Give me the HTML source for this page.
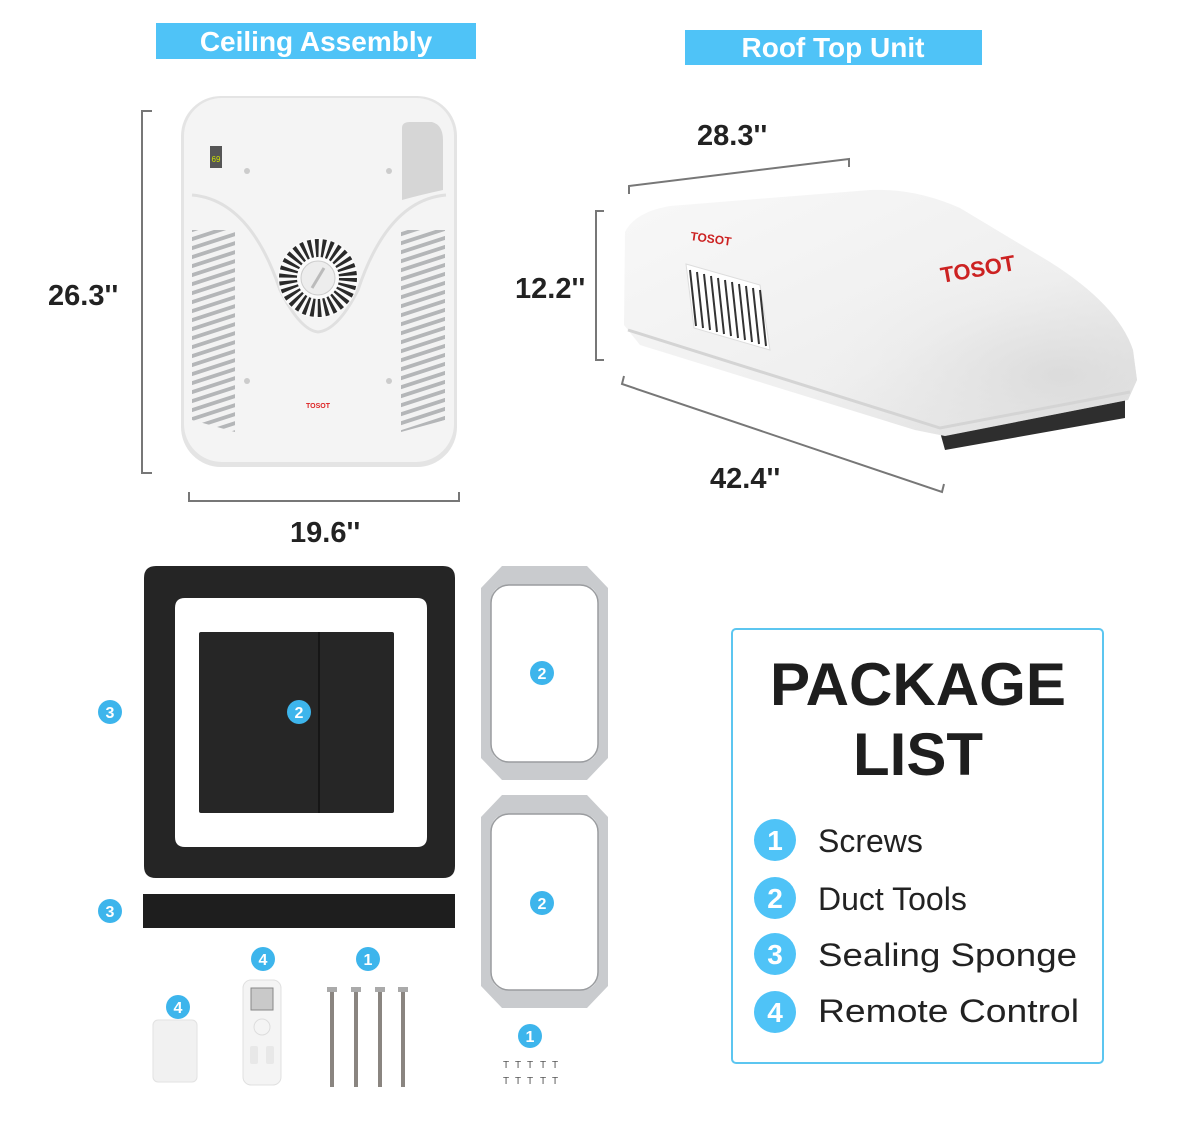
<!DOCTYPE html>
<html><head><meta charset="utf-8"><style>
html,body{margin:0;padding:0;background:#fff}
svg{display:block}
text{font-family:"Liberation Sans",sans-serif}
</style></head><body>
<svg width="1200" height="1124" viewBox="0 0 1200 1124" xmlns="http://www.w3.org/2000/svg">
<defs>
<pattern id="vent" width="12" height="9" patternUnits="userSpaceOnUse" patternTransform="skewY(-18)">
<rect width="12" height="9" fill="#f3f3f3"/><rect y="2.5" width="12" height="4" fill="#b4b6b8"/>
</pattern>
<linearGradient id="roofg" x1="0" y1="0" x2="1" y2="1">
<stop offset="0" stop-color="#f8f8f8"/><stop offset="0.6" stop-color="#efefef"/><stop offset="1" stop-color="#dadada"/>
</linearGradient>
<radialGradient id="shade" cx="0.85" cy="0.75" r="0.5">
<stop offset="0" stop-color="#d9d9d9" stop-opacity="0.8"/><stop offset="1" stop-color="#eee" stop-opacity="0"/>
</radialGradient>
</defs>

<rect x="156" y="23" width="320" height="36" fill="#4fc3f7"/>
<text x="316" y="51" font-size="28" font-weight="bold" fill="#fff" text-anchor="middle">Ceiling Assembly</text>
<rect x="685" y="30" width="297" height="35" fill="#4fc3f7"/>
<text x="833" y="57" font-size="28" font-weight="bold" fill="#fff" text-anchor="middle">Roof Top Unit</text>

<path d="M152,111 H142 V473 H152" fill="none" stroke="#777" stroke-width="2"/>
<text x="48" y="305" font-size="29" font-weight="bold" fill="#222">26.3''</text>
<path d="M189,492 V501 H459 V492" fill="none" stroke="#777" stroke-width="2"/>
<text x="290" y="542" font-size="29" font-weight="bold" fill="#222">19.6''</text>

<rect x="181" y="96" width="276" height="371" rx="40" fill="#e4e4e4"/>
<rect x="184" y="98" width="270" height="364" rx="38" fill="#f4f4f4"/>
<path d="M192,195 Q250,200 280,290 Q300,330 318,332 Q338,330 358,290 Q388,200 446,195" fill="none" stroke="#e0e0e0" stroke-width="3"/>
<path d="M192,230 L235,230 L235,432 L192,420 Z" fill="url(#vent)"/>
<path d="M401,230 L445,230 L445,420 L401,432 Z" fill="url(#vent)"/>
<path d="M402,128 Q402,122 410,122 L432,122 Q443,125 443,140 L443,190 Q420,195 402,200 Z" fill="#d6d6d6"/>
<circle cx="318" cy="278" r="40" fill="#fafafa"/>
<circle cx="318" cy="278" r="30" fill="none" stroke="#2a2a2a" stroke-width="18" stroke-dasharray="3.2 3.1"/>
<circle cx="318" cy="278" r="17" fill="#ededed" stroke="#ccc"/>
<line x1="312" y1="288" x2="324" y2="268" stroke="#bbb" stroke-width="3"/>
<rect x="210" y="146" width="12" height="22" fill="#555"/>
<text x="216" y="162" font-size="8" fill="#cde000" text-anchor="middle">69</text>
<circle cx="247" cy="171" r="3" fill="#ccc"/><circle cx="389" cy="171" r="3" fill="#ccc"/>
<circle cx="247" cy="381" r="3" fill="#ccc"/><circle cx="389" cy="381" r="3" fill="#ccc"/>
<text x="318" y="408" font-size="7" font-weight="bold" fill="#d22" text-anchor="middle">TOSOT</text>

<path d="M629,194 L629,186 L849,159 L849,167" fill="none" stroke="#777" stroke-width="2"/>
<text x="697" y="145" font-size="29" font-weight="bold" fill="#222">28.3''</text>
<path d="M604,211 H596 V360 H604" fill="none" stroke="#777" stroke-width="2"/>
<text x="515" y="298" font-size="29" font-weight="bold" fill="#222">12.2''</text>
<path d="M624,376 L622,384 L942,492 L944,484" fill="none" stroke="#777" stroke-width="2"/>
<text x="710" y="488" font-size="29" font-weight="bold" fill="#222">42.4''</text>

<path d="M940,432 L1125,400 L1125,418 L945,450 Z" fill="#2e2e2e"/>
<path d="M625,232 Q635,212 670,206 L870,190 Q915,188 960,208 L1050,262 Q1118,305 1133,350 L1137,380 L1128,400 L945,436 L915,430 L640,345 L624,325 Z" fill="url(#roofg)"/>
<path d="M625,232 Q635,212 670,206 L870,190 Q915,188 960,208 L1050,262 Q1118,305 1133,350 L1137,380 L1128,400 L945,436 L915,430 L640,345 L624,325 Z" fill="url(#shade)"/>
<path d="M628,330 L940,428 L1130,392" fill="none" stroke="#d4d4d4" stroke-width="3"/>
<path d="M686,264 L760,285 L770,350 L694,328 Z" fill="#fff" stroke="#ddd"/>
<g stroke="#333" stroke-width="2">
<line x1="690" y1="270" x2="696" y2="326"/><line x1="697" y1="272" x2="703" y2="328"/><line x1="704" y1="274" x2="710" y2="330"/><line x1="711" y1="276" x2="717" y2="332"/><line x1="718" y1="278" x2="724" y2="334"/><line x1="725" y1="280" x2="731" y2="336"/><line x1="732" y1="282" x2="738" y2="338"/><line x1="739" y1="284" x2="745" y2="340"/><line x1="746" y1="286" x2="752" y2="342"/><line x1="753" y1="288" x2="759" y2="344"/><line x1="760" y1="290" x2="766" y2="346"/>
</g>
<text x="690" y="240" font-size="12" font-weight="bold" fill="#c22" transform="rotate(8 690 240)">TOSOT</text>
<text x="942" y="283" font-size="22" font-weight="bold" fill="#c22" transform="rotate(-10 942 283)">TOSOT</text>

<path fill-rule="evenodd" fill="#252525" d="M144,578 Q144,566 156,566 L443,566 Q455,566 455,578 L455,866 Q455,878 443,878 L156,878 Q144,878 144,866 Z M185,598 Q175,598 175,608 L175,837 Q175,847 185,847 L417,847 Q427,847 427,837 L427,608 Q427,598 417,598 Z"/>
<rect x="199" y="632" width="195" height="181" rx="2" fill="#262626"/>
<line x1="319" y1="632" x2="319" y2="813" stroke="#111" stroke-width="1.5"/>
<rect x="143" y="894" width="312" height="34" fill="#1e1e1e"/>

<g fill="#c9cbce" fill-rule="evenodd">
<path d="M502,566 L587,566 L608,588 L608,758 L587,780 L502,780 L481,758 L481,588 Z M509,585 Q491,585 491,603 L491,744 Q491,762 509,762 L580,762 Q598,762 598,744 L598,603 Q598,585 580,585 Z"/>
<path d="M502,795 L587,795 L608,817 L608,986 L587,1008 L502,1008 L481,986 L481,817 Z M509,814 Q491,814 491,832 L491,972 Q491,990 509,990 L580,990 Q598,990 598,972 L598,832 Q598,814 580,814 Z"/>
</g>
<g fill="none" stroke="#9a9c9f" stroke-width="1.5">
<rect x="491" y="585" width="107" height="177" rx="18"/><rect x="491" y="814" width="107" height="176" rx="18"/>
</g>

<rect x="153" y="1020" width="44" height="62" rx="5" fill="#f1f1f1" stroke="#e2e2e2"/>
<rect x="243" y="980" width="38" height="105" rx="8" fill="#f4f4f4" stroke="#e0e0e0"/>
<rect x="251" y="988" width="22" height="22" fill="#c9c9c9" stroke="#888"/>
<circle cx="262" cy="1027" r="8" fill="none" stroke="#ddd"/>
<rect x="250" y="1046" width="8" height="18" rx="2" fill="#e8e8e8"/><rect x="266" y="1046" width="8" height="18" rx="2" fill="#e8e8e8"/>

<g stroke="#8a8580" stroke-width="4">
<line x1="332" y1="990" x2="332" y2="1087"/><line x1="356" y1="990" x2="356" y2="1087"/><line x1="380" y1="990" x2="380" y2="1087"/><line x1="403" y1="990" x2="403" y2="1087"/>
</g>
<g fill="#aaa"><rect x="327" y="987" width="10" height="5"/><rect x="351" y="987" width="10" height="5"/><rect x="375" y="987" width="10" height="5"/><rect x="398" y="987" width="10" height="5"/></g>
<g font-size="10" fill="#555" text-anchor="middle">
<text x="506" y="1068">T</text><text x="518" y="1068">T</text><text x="530" y="1068">T</text><text x="543" y="1068">T</text><text x="555" y="1068">T</text>
<text x="506" y="1084">T</text><text x="518" y="1084">T</text><text x="530" y="1084">T</text><text x="543" y="1084">T</text><text x="555" y="1084">T</text>
</g>

<g fill="#3db5ec">
<circle cx="110" cy="712" r="12"/><circle cx="299" cy="712" r="12"/><circle cx="542" cy="673" r="12"/><circle cx="110" cy="911" r="12"/><circle cx="542" cy="903" r="12"/><circle cx="263" cy="959" r="12"/><circle cx="368" cy="959" r="12"/><circle cx="178" cy="1007" r="12"/><circle cx="530" cy="1036" r="12"/>
</g>
<g font-size="16" font-weight="bold" fill="#fff" text-anchor="middle">
<text x="110" y="718">3</text><text x="299" y="718">2</text><text x="542" y="679">2</text><text x="110" y="917">3</text><text x="542" y="909">2</text><text x="263" y="965">4</text><text x="368" y="965">1</text><text x="178" y="1013">4</text><text x="530" y="1042">1</text>
</g>

<rect x="732" y="629" width="371" height="434" rx="4" fill="#fff" stroke="#5cc6f0" stroke-width="2"/>
<text x="918" y="705" font-size="60" font-weight="bold" fill="#1e1e1e" text-anchor="middle" textLength="296" lengthAdjust="spacingAndGlyphs">PACKAGE</text>
<text x="918" y="775" font-size="60" font-weight="bold" fill="#1e1e1e" text-anchor="middle">LIST</text>
<g fill="#4fc3f7">
<circle cx="775" cy="840" r="21"/><circle cx="775" cy="898" r="21"/><circle cx="775" cy="954" r="21"/><circle cx="775" cy="1012" r="21"/>
</g>
<g font-size="28" font-weight="bold" fill="#fff" text-anchor="middle">
<text x="775" y="850">1</text><text x="775" y="908">2</text><text x="775" y="964">3</text><text x="775" y="1022">4</text>
</g>
<g font-size="32" fill="#222">
<text x="818" y="852">Screws</text>
<text x="818" y="910">Duct Tools</text>
<text x="818" y="966" textLength="259" lengthAdjust="spacingAndGlyphs">Sealing Sponge</text>
<text x="818" y="1022" textLength="261" lengthAdjust="spacingAndGlyphs">Remote Control</text>
</g>
</svg>
</body></html>
